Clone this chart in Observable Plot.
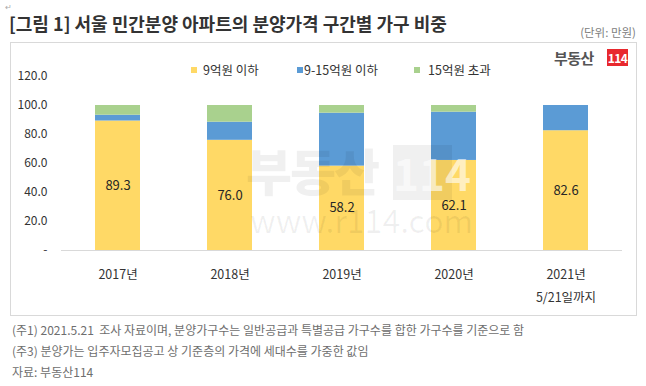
<!DOCTYPE html>
<html>
<head>
<meta charset="utf-8">
<script src="https://cdn.jsdelivr.net/npm/d3@7"></script>
<script src="https://cdn.jsdelivr.net/npm/@observablehq/plot@0.6"></script>
<style>
  html, body { margin: 0; padding: 0; background: #fff; }
  #wrap { position: relative; width: 646px; height: 386px; overflow: hidden; font-family: "Noto Sans CJK KR", "Noto Sans", sans-serif; }
  .abs { position: absolute; white-space: nowrap; }
  #title { left: 9px; top: 12px; font-size: 18px; line-height: 22px; font-weight: 700; color: #333; }
  #unit { right: 10px; top: 24px; font-size: 11.5px; line-height: 16px; color: #808080; }
  #box { left: 10px; top: 42px; width: 627px; height: 274px; border: 1px solid #d9d9d9; box-sizing: border-box; }
  #chart { left: 10px; top: 42px; }
  .note { left: 12px; font-size: 12px; line-height: 18px; color: #6e6e6e; }
  .leg { font-size: 12.5px; line-height: 16px; color: #333; }
  .sw { width: 6px; height: 6px; }
  .wm { color: rgba(0,0,0,0.06); pointer-events: none; }
</style>
</head>
<body>
<div id="wrap">
  <div class="abs" style="left:5px;top:2px;font-size:8px;line-height:10px;color:#aaa;">↵</div>
  <div id="title" class="abs">[그림 1] 서울 민간분양 아파트의 분양가격 구간별 가구 비중</div>
  <div id="unit" class="abs">(단위: 만원)</div>
  <div id="box" class="abs"></div>
  <div id="chart" class="abs"></div>
  <div id="legend"></div>
  <!-- logo -->
  <div class="abs" style="left:554px;top:48px;font-size:15px;line-height:20px;font-weight:700;color:#555;letter-spacing:-0.5px;">부동산</div>
  <div class="abs" style="left:607px;top:49px;width:21px;height:17px;background:#e8282e;color:#fff;font-size:12px;line-height:17px;font-weight:700;text-align:center;letter-spacing:-0.5px;">114</div>
  <!-- watermark -->
  <div class="abs wm" style="left:246px;top:138px;font-size:50px;line-height:62px;font-weight:900;letter-spacing:-2px;">부동산</div>
  <div class="abs wm" style="left:393px;top:145px;width:59px;height:55px;background:rgba(0,0,0,0.06);color:rgba(255,255,255,0.6);font-size:44px;line-height:55px;font-weight:700;text-align:center;">114</div>
  <div class="abs wm" style="left:250px;top:199px;font-size:32px;line-height:40px;">www.r114.com</div>
  <div class="abs note" style="top:321px;">(주1) 2021.5.21&nbsp; 조사 자료이며, 분양가구수는 일반공급과 특별공급 가구수를 합한 가구수를 기준으로 함</div>
  <div class="abs note" style="top:342px;">(주3) 분양가는 입주자모집공고 상 기준층의 가격에 세대수를 가중한 값임</div>
  <div class="abs note" style="top:363px;">자료: 부동산114</div>
</div>
<script>
// ---- data ----
const years = ["2017", "2018", "2019", "2020", "2021"];
const yearLabels = ["2017년", "2018년", "2019년", "2020년", "2021년\n5/21일까지"];
const seriesNames = ["9억원 이하", "9-15억원 이하", "15억원 초과"];
const seriesColors = ["#FFD966", "#5B9BD5", "#A9D18E"];
const under9 = [89.3, 76.0, 58.2, 62.1, 82.6];
const from9to15 = [4.0, 12.5, 36.5, 33.3, 17.4];
const over15 = [6.7, 11.5, 5.3, 4.6, 0];
const yTicks = [0, 20, 40, 60, 80, 100, 120];

// ---- table ----
const seriesValues = [under9, from9to15, over15];
const rows = [];
seriesNames.forEach((s, si) => years.forEach((y, yi) => rows.push({year: y, series: s, value: seriesValues[si][yi]})));
const labelOf = new Map(years.map((y, i) => [y, yearLabels[i]]));
const yellowRows = years.map((y, i) => ({year: y, value: under9[i]}));

const chart = Plot.plot({
  width: 627,
  height: 274,
  marginLeft: 51,
  marginRight: 15,
  marginTop: 34,
  marginBottom: 66,
  style: {fontFamily: '"Noto Sans CJK KR", "Noto Sans", sans-serif', background: "transparent", overflow: "visible"},
  x: {domain: years, paddingInner: 0.6, paddingOuter: 0.3, label: null},
  y: {domain: [0, 120], label: null},
  color: {domain: seriesNames, range: seriesColors},
  marks: [
    Plot.barY(rows, {x: "year", y: "value", fill: "series", order: seriesNames}),
    Plot.ruleY([0], {stroke: "#d9d9d9", strokeWidth: 1}),
    Plot.text(yellowRows, {x: "year", y: d => d.value / 2, text: d => d.value.toFixed(1), fontSize: 13, fill: "#262626"}),
    Plot.axisY({ticks: yTicks, tickSize: 0, tickPadding: 14, fontSize: 12, fill: "#333",
      tickFormat: d => d === 0 ? "-" : d.toFixed(1), label: null}),
    Plot.axisX({tickSize: 0, tickPadding: 13, fontSize: 12.5, fill: "#333", lineHeight: 1.78,
      tickFormat: d => labelOf.get(d), label: null})
  ]
});
document.getElementById("chart").appendChild(chart);

// ---- legend (HTML) ----
const legendX = [191, 297, 414];
const legendTextX = [203, 304, 428];
const leg = document.getElementById("legend");
seriesNames.forEach((s, i) => {
  const sw = document.createElement("div");
  sw.className = "abs sw";
  sw.style.left = legendX[i] + "px";
  sw.style.top = "67px";
  sw.style.background = seriesColors[i];
  leg.appendChild(sw);
  const t = document.createElement("div");
  t.className = "abs leg";
  t.style.left = legendTextX[i] + "px";
  t.style.top = "62px";
  t.textContent = s;
  leg.appendChild(t);
});
</script>
</body>
</html>
